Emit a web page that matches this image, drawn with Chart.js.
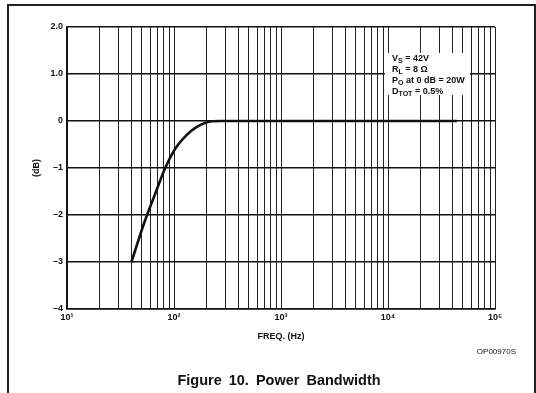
<!DOCTYPE html>
<html>
<head>
<meta charset="utf-8">
<script src="https://cdn.jsdelivr.net/npm/chart.js@4"></script>
<style>
  html, body { margin: 0; padding: 0; background: #fff; }
  #wrap { position: relative; width: 536px; height: 393px; overflow: hidden; font-family: 'Liberation Sans', Arial, sans-serif; color: #111; }
  #frame { position: absolute; left: 7px; top: 4px; width: 529px; height: 400px; border: 2px solid #222; border-bottom: none; box-sizing: border-box; }
  canvas { position: absolute; left: 0; top: 0; }
  #note { position: absolute; left: 385px; top: 53px; width: 85px; height: 42px; background: #fff; font-weight: bold; font-size: 9px; line-height: 11px; padding: 0 0 0 7px; box-sizing: border-box; white-space: nowrap; }
  #note sub { font-size: 7px; vertical-align: -2px; line-height: 0; }
  #code { position: absolute; right: 20px; top: 347px; font-size: 8px; }
  #caption { position: absolute; left: 0; width: 558px; top: 372px; text-align: center; font-weight: bold; font-size: 14.5px; word-spacing: 3px; }
</style>
</head>
<body>
<div id="wrap">
  <div id="frame"></div>
  <canvas id="bwChart" width="536" height="393"></canvas>
  <div id="note">
    V<sub>S</sub> = 42V<br>
    R<sub>L</sub> = 8 &Omega;<br>
    P<sub>O</sub> at 0 dB = 20W<br>
    D<sub>TOT</sub> = 0.5%
  </div>
  <div id="code">OP00970S</div>
  <div id="caption">Figure 10. Power Bandwidth</div>
</div>
<script>
// curve
const freqHz = [40, 53, 68, 82, 102, 131, 162, 200, 270, 1000, 10000, 44000];
const gainDb = [-3, -2.15, -1.5, -1.02, -0.6, -0.30, -0.13, -0.03, 0, 0, 0, 0];

const decades = [10, 100, 1000, 10000, 100000];
const decadeLabels = ['10¹', '10²', '10³', '10⁴', '10⁵'];
const yTicks = [2, 1, 0, -1, -2, -3, -4];
const yTickLabels = ['2.0', '1.0', '0', '–1', '–2', '–3', '–4'];

// log grid: 1..9 x each decade
const gridFreqs = [];
for (let d = 10; d < 100000; d *= 10) {
    for (let m = 1; m < 10; m++) gridFreqs.push(d * m);
}
gridFreqs.push(100000);

const tickFont = { family: "'Liberation Sans', Arial, sans-serif", size: 9, weight: 'bold' };

const ctx = document.getElementById('bwChart').getContext('2d');
new Chart(ctx, {
    type: 'line',
    data: {
        datasets: [{
            data: freqHz.map((f, i) => ({ x: f, y: gainDb[i] })),
            borderColor: '#111',
            borderWidth: 2.6,
            pointRadius: 0,
            fill: false,
            cubicInterpolationMode: 'monotone'
        }]
    },
    options: {
        responsive: false,
        animation: false,
        devicePixelRatio: 1,
        layout: { padding: { left: 0, top: 27, right: 41, bottom: 0 } },
        plugins: { legend: { display: false }, tooltip: { enabled: false } },
        scales: {
            x: {
                type: 'logarithmic',
                min: 10, max: 100000,
                afterBuildTicks: s => { s.ticks = gridFreqs.map(v => ({ value: v })); },
                afterFit: s => { s.height = 84; },
                ticks: {
                    autoSkip: false, maxRotation: 0, padding: 3, color: '#111', font: tickFont,
                    callback: v => { const i = decades.indexOf(v); return i >= 0 ? decadeLabels[i] : ''; }
                },
                grid: { color: '#222', lineWidth: 1, drawTicks: false },
                border: { display: true, color: '#111', width: 1.5 },
                title: { display: true, text: 'FREQ. (Hz)', color: '#111', font: tickFont, padding: { top: 0, bottom: 51 } }
            },
            y: {
                min: -4, max: 2,
                afterBuildTicks: s => { s.ticks = yTicks.map(v => ({ value: v })); },
                afterFit: s => { s.width = 67; },
                ticks: {
                    padding: 4, color: '#111', font: tickFont,
                    callback: v => yTickLabels[yTicks.indexOf(v)]
                },
                grid: { color: '#111', lineWidth: 1.5, drawTicks: false },
                border: { display: true, color: '#111', width: 1.5 },
                title: { display: true, text: '(dB)', color: '#111', font: tickFont, padding: { top: 31, bottom: 0 } }
            }
        }
    }
});
</script>
</body>
</html>
